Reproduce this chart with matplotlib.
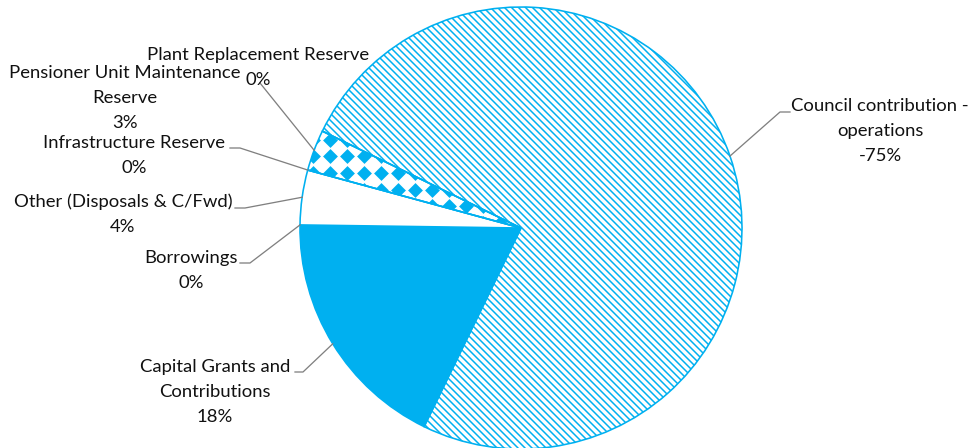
import numpy as np
import matplotlib
matplotlib.use("Agg")
import matplotlib.pyplot as plt

# Funding sources (percent of total); council share is reported as negative
categories = [
    "Council contribution -\noperations",
    "Capital Grants and\nContributions",
    "Borrowings",
    "Other (Disposals & C/Fwd)",
    "Infrastructure Reserve",
    "Pensioner Unit Maintenance\nReserve",
    "Plant Replacement Reserve",
]
values = [-75, 18, 0, 4, 0, 3, 0]

BLUE = "#00B0F0"
GREY = "#808080"
DPI = 84
W, H = 973, 448
PX = 72 / DPI  # points per pixel

plt.rcParams["font.family"] = ["Lato", "DejaVu Sans"]
plt.rcParams["hatch.linewidth"] = 1.3

fig = plt.figure(figsize=(W / DPI, H / DPI), dpi=DPI)
ax = fig.add_axes([0, 0, 1, 1])

cx, cy, r = 521, H - 228, 221
sizes = [abs(v) for v in values]
wedges, _ = ax.pie(sizes, center=(cx, cy), radius=r, startangle=154,
                   counterclock=False, frame=True,
                   colors=["white", BLUE, BLUE, "white", "white", "none", "white"],
                   wedgeprops=dict(edgecolor=BLUE, linewidth=1.6 * PX))
wedges[0].set_hatch("\\\\\\\\")

# diamond fill for the pensioner reserve slice
gx, gy = np.meshgrid(np.arange(296, 530, 17.0), np.arange(122, 240, 16.7))
dots = ax.scatter(gx.ravel(), H - gy.ravel() - 1.0, marker="D",
                  s=(10.5 * PX) ** 2, color=BLUE, linewidths=0, zorder=0.5)
dots.set_clip_path(wedges[5])

# label layout: first-line centre, and the label end of each leader line
label_xy = [(880, 106), (215, 367), (191, 258), (123, 202),
            (134, 143), (125, 73), (258, 55)]
leader_pts = [
    [(790, 112), (780, 112)],
    [(295, 372), (303, 372)],
    [(240, 263), (250, 263)],
    [(235, 208), (245, 208)],
    [(230, 148), (240, 148)],
    [(260, 83)],
    None,
]

for w, name, v, (lx, ly), pts in zip(wedges, categories, values, label_xy, leader_pts):
    lines = name.split("\n") + [f"{v:.0f}%"]
    for i, s in enumerate(lines):
        ax.text(lx, H - (ly + i * 25), s, ha="center", va="center",
                fontsize=18.5 * PX, color="#111111")
    if pts:
        mid = np.deg2rad((w.theta1 + w.theta2) / 2)
        ex, ey = cx + r * np.cos(mid), cy + r * np.sin(mid)
        xs = [p[0] for p in pts] + [ex]
        ys = [H - p[1] for p in pts] + [ey]
        ax.plot(xs, ys, color=GREY, lw=1.3 * PX, zorder=3)

ax.set_xlim(0, W)
ax.set_ylim(0, H)
ax.set_aspect("equal")
ax.axis("off")

fig.savefig("out.png", dpi=DPI)
